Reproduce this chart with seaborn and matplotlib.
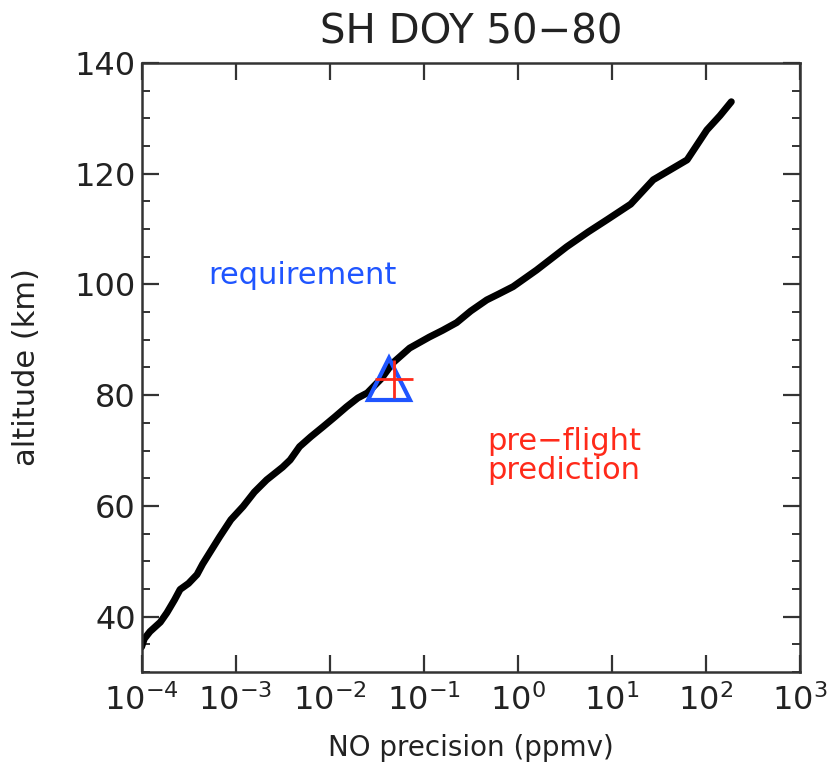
import numpy as np
import pandas as pd
import matplotlib
matplotlib.use("Agg")
import matplotlib.pyplot as plt
import seaborn as sns

# NO precision profile (log10 ppmv) vs altitude (km)
log_precision = [-4.00, -3.97, -3.91, -3.80, -3.73, -3.65, -3.59, -3.50, -3.41, -3.35,
                 -3.17, -3.05, -2.92, -2.80, -2.67, -2.50, -2.42, -2.32, -2.20, -2.07,
                 -1.95, -1.82, -1.70, -1.60, -1.45, -1.33, -1.15, -0.94, -0.80, -0.65,
                 -0.50, -0.33, -0.20, -0.05, 0.20, 0.52, 0.75, 0.95, 1.20, 1.44,
                 1.58, 1.80, 2.01, 2.15, 2.27]
altitude = [34.5, 36.0, 37.3, 39.0, 40.7, 43.0, 44.9, 46.0, 47.6, 49.5,
            54.4, 57.5, 59.9, 62.5, 64.7, 67.0, 68.3, 70.7, 72.5, 74.3,
            76.0, 77.9, 79.5, 80.4, 83.0, 85.8, 88.5, 90.5, 91.7, 93.1,
            95.2, 97.2, 98.3, 99.6, 102.6, 106.8, 109.5, 111.7, 114.5, 118.9,
            120.3, 122.5, 127.9, 130.5, 133.0]

requirement_x = [0.043]
requirement_y = [83.0]
prediction_x = [0.048]
prediction_y = [83.0]

title = "SH DOY 50\u221280"
xlabel = "NO precision (ppmv)"
ylabel = "altitude (km)"
xtick_vals = [1e-4, 1e-3, 1e-2, 1e-1, 1e0, 1e1, 1e2, 1e3]
xtick_labels = ["$10^{-4}$", "$10^{-3}$", "$10^{-2}$", "$10^{-1}$",
                "$10^{0}$", "$10^{1}$", "$10^{2}$", "$10^{3}$"]
ytick_vals = [40, 60, 80, 100, 120, 140]

sns.set_theme(style="ticks")
plt.rcParams['font.family'] = ['DejaVu Sans']
plt.rcParams['mathtext.default'] = 'regular'

df = pd.DataFrame({"precision": 10.0 ** np.array(log_precision), "altitude": altitude})

fig = plt.figure(figsize=(8.31, 7.70), dpi=100)
ax = fig.add_axes([0.1703, 0.1273, 0.7924, 0.7909])

sns.lineplot(data=df, x="precision", y="altitude", sort=False, estimator=None,
             color="black", linewidth=5, ax=ax)
ax.plot(requirement_x, requirement_y, marker="^", markersize=30, markerfacecolor="none",
        markeredgecolor="#1f55ff", markeredgewidth=3, linestyle="none")
ax.plot(prediction_x, prediction_y, marker="+", markersize=27, color="#ff2a1a",
        markeredgewidth=2, linestyle="none")

ax.set_xscale("log")
ax.set_xlim(1e-4, 1e3)
ax.set_ylim(30, 140)
ax.set_xticks(xtick_vals)
ax.set_xticklabels(xtick_labels)
ax.xaxis.set_minor_locator(matplotlib.ticker.NullLocator())
ax.set_yticks(ytick_vals)
ax.yaxis.set_minor_locator(matplotlib.ticker.MultipleLocator(5))

ax.tick_params(axis="both", which="both", direction="in", top=True, right=True,
               color="#333333", labelsize=23, labelcolor="#222222")
ax.tick_params(axis="both", which="major", length=12, width=1.6)
ax.tick_params(axis="y", which="major", pad=4)
ax.tick_params(axis="x", which="major", pad=9)
ax.tick_params(axis="both", which="minor", length=6, width=1.4)
for s in ax.spines.values():
    s.set_linewidth(1.8)
    s.set_color("#333333")

ax.set_title(title, fontsize=29, color="#222222", pad=14)
ax.set_xlabel(xlabel, fontsize=20, color="#222222", labelpad=12)
ax.set_ylabel(ylabel, fontsize=22, color="#222222", labelpad=24)

ax.text(10 ** -2.29, 101.7, "requirement", color="#1f55ff", fontsize=22,
        ha="center", va="center")
ax.text(10 ** -0.32, 69.1, "pre\u2212flight\nprediction", color="#ff2a1a", fontsize=22,
        ha="left", va="center", linespacing=1.0)

fig.savefig("out.png", dpi=100)
